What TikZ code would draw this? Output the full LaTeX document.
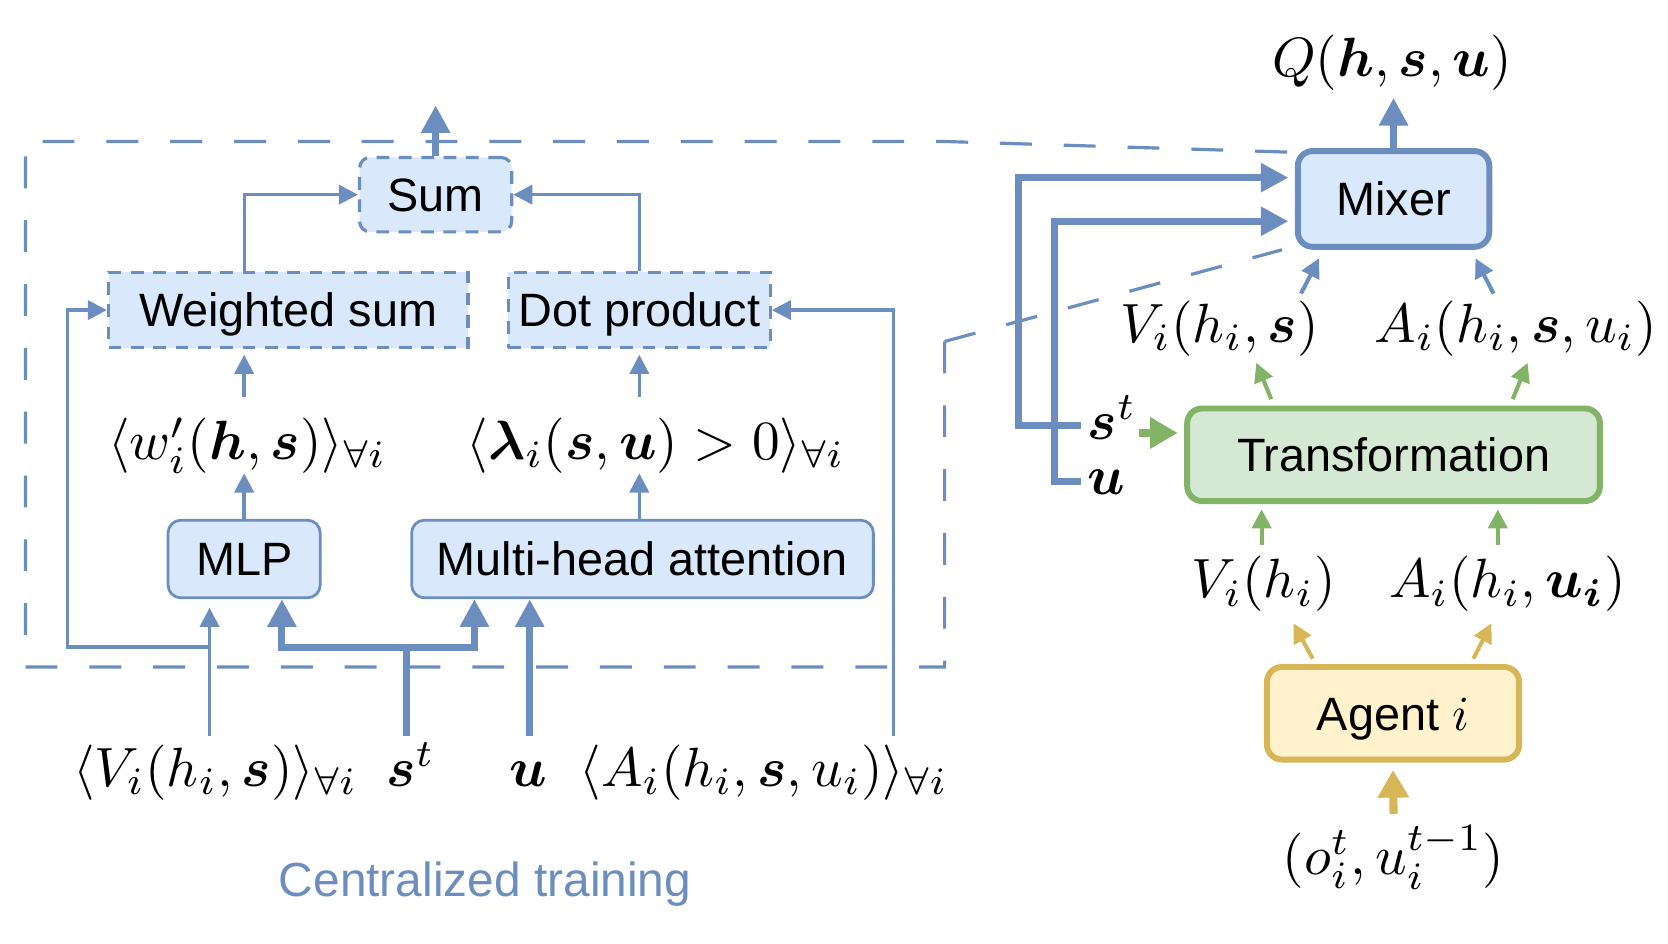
\RequirePackage{fix-cm}
\documentclass[tikz,border=0pt]{standalone}
\usepackage{graphicx}
\usepackage{amsmath}
\usepackage{bm}
\usepackage[no-math]{fontspec}
\newfontfamily\helv{Liberation Sans}
\newcommand{\mth}[1]{\scalebox{2.6}{$#1$}}
\usetikzlibrary{arrows.meta,calc}
\definecolor{bstroke}{HTML}{6C8EBF}
\definecolor{bfill}{HTML}{DAE8FC}
\definecolor{gstroke}{HTML}{82B366}
\definecolor{gfill}{HTML}{D5E8D4}
\definecolor{ystroke}{HTML}{D6B656}
\definecolor{yfill}{HTML}{FFF2CC}
\pgfdeclarelayer{bg}
\pgfsetlayers{bg,main}
\begin{document}
\begin{tikzpicture}[x=0.5pt,y=-0.5pt,
  box/.style={draw=bstroke, fill=bfill, line width=1.3pt, rounded corners=6pt, inner sep=0pt,
    font=\helv\fontsize{22}{26}\selectfont, text height=15.8pt, text depth=0pt},
  dbox/.style={box, line width=1.5pt, dash pattern=on 6pt off 4.5pt},
  bigbox/.style={box, line width=2.8pt, rounded corners=7pt},
  lab/.style={inner sep=0pt, anchor=base},
  thinline/.style={draw=bstroke, line width=1.6pt},
  thinarrow/.style={thinline, -{Triangle[length=9pt,width=9pt]}},
  thickline/.style={draw=bstroke, line width=3.3pt},
  thickarrow/.style={thickline, -{Triangle[length=13pt,width=13pt]}},
  bothtips/.style={thickline, {Triangle[length=13pt,width=13pt]}-{Triangle[length=13pt,width=13pt]}},
  greenarrow/.style={draw=gstroke, line width=1.9pt, -{Triangle[length=9pt,width=9pt]}},
  greenthick/.style={draw=gstroke, line width=3.8pt, -{Triangle[length=13pt,width=14pt]}},
  yelarrow/.style={draw=ystroke, line width=1.9pt, -{Triangle[length=9pt,width=9pt]}},
  yelthick/.style={draw=ystroke, line width=3.8pt, -{Triangle[length=13pt,width=14pt]}},
  callout/.style={draw=bstroke, line width=1.5pt, dash pattern=on 15pt off 15pt},
]
\useasboundingbox (0,0) rectangle (1568,887);

% boxes
\node[dbox, rounded corners=5pt, minimum width=71.5pt, minimum height=35pt] (sum) at (409.5,183) {Sum};
\node[dbox, sharp corners, minimum width=169pt, minimum height=35.5pt] (ws) at (271,291.5) {Weighted sum};
\node[dbox, sharp corners, minimum width=123pt, minimum height=35.5pt] (dp) at (601,291.5) {Dot product};
\node[box, minimum width=71.5pt, minimum height=36.5pt] (mlp) at (229.5,525.5) {MLP};
\node[box, minimum width=217pt, minimum height=36.5pt] (mha) at (604,525.5) {Multi-head attention};
\node[bigbox, minimum width=90pt, minimum height=45pt] (mixer) at (1310,187) {Mixer};
\node[bigbox, draw=gstroke, fill=gfill, minimum width=194pt, minimum height=43.5pt] (trans) at (1310,427.5) {Transformation};
\node[bigbox, draw=ystroke, fill=yfill, minimum width=118.5pt, minimum height=43.5pt] (agent) at (1309.5,670.5) {Agent \scalebox{2.3}{\normalsize$i$}};

% labels
\node[lab] (wl) at (232.5,432) {\mth{\langle w'_i(\bm h, \bm s)\rangle_{\forall i}}};
\node[lab] (ll) at (616.5,432) {\mth{\langle \bm\lambda_i(\bm s, \bm u) > 0\rangle_{\forall i}}};
\node[lab] (vl) at (202.5,739) {\mth{\langle V_i(h_i, \bm s)\rangle_{\forall i}}};
\node[lab] (stl) at (386,739) {\mth{\bm s^t}};
\node[lab] (ul) at (497,739) {\mth{\bm u}};
\node[lab] (al) at (718,739) {\mth{\langle A_i(h_i, \bm s, u_i)\rangle_{\forall i}}};
\node[lab] (ql) at (1308.5,72) {\mth{Q(\bm h, \bm s, \bm u)}};
\node[lab] (vr) at (1146.5,322) {\mth{V_i(h_i, \bm s)}};
\node[lab] (ar) at (1425,322) {\mth{A_i(h_i, \bm s, u_i)}};
\node[lab, anchor=base west] (str) at (1022,413) {\mth{\bm s^t}};
\node[lab, anchor=base west] (ur) at (1022,465) {\mth{\bm u}};
\node[lab] (vh) at (1188,562) {\mth{V_i(h_i)}};
\node[lab] (ah) at (1417,562) {\mth{A_i(h_i, \bm{u_i})}};
\node[lab] (obs) at (1310,822) {\mth{(o_i^t, u_i^{t-1})}};
\node[inner sep=0pt, anchor=base, font=\helv\fontsize{22.5}{27}\selectfont, text=bstroke] (ct) at (456,843) {Centralized training};

% callout lines
\begin{pgfonlayer}{bg}
\coordinate (c1) at (888,321);
\coordinate (c2) at (888,627);
\coordinate (c3) at (24,627);
\coordinate (c4) at (24,133);
\coordinate (c5) at (888,133);
\draw[callout] (c1) -- (c2) -- (c3) -- (c4) -- (c5) -- ([yshift=-2pt]mixer.north west);
\draw[callout] (c1) -- ([xshift=-6pt]mixer.south west);
\end{pgfonlayer}

% left part
\coordinate (sumout) at (409.5,99);
\draw[thickarrow] (sum.north) -- (sumout);
\draw[thinarrow] ([xshift=-20.5pt]ws.north) |- (sum.west);
\draw[thinarrow] (dp.north) |- (sum.east);

\coordinate (wtop) at ([yshift=29.5pt]wl.base);
\coordinate (wbot) at ([yshift=-6.5pt]wl.base);
\coordinate (wsb) at ([yshift=-2.5pt]ws.south);
\draw[thinarrow] (wtop -| mlp.north) -- (wsb -| mlp.north);
\draw[thinarrow] (mlp.north) -- (wbot -| mlp.north);

\coordinate (ltop) at ([yshift=29.5pt]ll.base);
\coordinate (lbot) at ([yshift=-6.5pt]ll.base);
\coordinate (dpb) at ([yshift=-2.5pt]dp.south);
\draw[thinarrow] (ltop -| dp.south) -- (dpb);
\draw[thinarrow] (mha.north -| dp.south) -- (lbot -| dp.south);

\coordinate (jrow) at ([yshift=-22.5pt]mlp.south);
\coordinate (vs) at ([xshift=-2.75pt,yshift=23.5pt]vl.base);
\draw[thinarrow, shorten >=4pt] (vs) -- (vs |- mlp.south);
\draw[thinarrow] (vs |- jrow) -| ([xshift=-18.5pt]ws.west) -- (ws.west);

\coordinate (ss) at ([xshift=-2pt,yshift=23.5pt]stl.base);
\draw[thickline] (ss) -- (ss |- jrow);
\draw[bothtips] ([xshift=17.75pt]mlp.south) |- (ss |- jrow) -| ([xshift=-79pt]mha.south);

\coordinate (us) at ([xshift=0.5pt,yshift=23.5pt]ul.base);
\draw[thickarrow] (us) -- (us |- mha.south);

\coordinate (as) at ([xshift=61pt,yshift=23.5pt]al.base);
\draw[thinarrow] (as) |- (dp.east);

% right part
\coordinate (qtip) at ([yshift=-10pt]ql.base);
\draw[thickarrow] (mixer.north) -- (mixer.north |- qtip);

\coordinate (srs) at ([xshift=-3pt,yshift=6.5pt]str.base west);
\draw[thickarrow, shorten >=3pt] (srs) -- ++(-59,0) |- ([yshift=10pt]mixer.west);
\coordinate (urs) at ([xshift=-3pt,yshift=6pt]ur.base west);
\draw[thickarrow, shorten >=3pt] (urs) -- ++(-25,0) |- ([yshift=-10.5pt]mixer.west);

\coordinate (gs) at ([xshift=1pt,yshift=3pt]str.base east);
\draw[greenthick, shorten >=3pt] (gs) -- (gs -| trans.west);

\draw[greenarrow] ([xshift=-57.5pt,yshift=3pt]trans.north) -- ([xshift=17.25pt,yshift=-9.5pt]vr.base);
\draw[greenarrow] ([xshift=56pt,yshift=3pt]trans.north) -- ([xshift=5.5pt,yshift=-9.5pt]ar.base);

\draw[thinarrow, line width=1.9pt] ([xshift=38.25pt,yshift=23pt]vr.base) -- ([xshift=-35pt,yshift=-4pt]mixer.south);
\draw[thinarrow, line width=1.9pt] ([xshift=-10.5pt,yshift=23pt]ar.base) -- ([xshift=38.5pt,yshift=-4pt]mixer.south);

\coordinate (tb) at ([yshift=-2.5pt]trans.south);
\coordinate (vhs) at ([xshift=-1pt,yshift=25pt]vh.base);
\coordinate (ahs) at ([xshift=-4.5pt,yshift=25pt]ah.base);
\draw[greenarrow] (vhs) -- (vhs |- tb);
\draw[greenarrow] (ahs) -- (ahs |- tb);

\draw[yelarrow] ([xshift=-37.75pt,yshift=2.5pt]agent.north) -- ([xshift=14pt,yshift=-12pt]vh.base);
\draw[yelarrow] ([xshift=37.75pt,yshift=2.5pt]agent.north) -- ([xshift=-7.5pt,yshift=-12pt]ah.base);
\draw[yelthick] ([yshift=28.5pt]obs.base) -- ([yshift=-3.5pt]agent.south);
\end{tikzpicture}
\end{document}
